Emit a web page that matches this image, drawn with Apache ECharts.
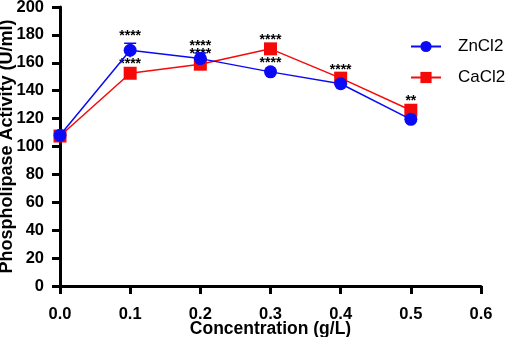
<!DOCTYPE html>
<html>
<head>
<meta charset="utf-8">
<script src="https://cdn.jsdelivr.net/npm/echarts@6/dist/echarts.min.js"></script>
<style>
  html, body { margin: 0; padding: 0; background: #fff; }
  #chart { width: 505px; height: 337px; }
</style>
</head>
<body>
<div id="chart"></div>
<script>
const concentrations = [0.0, 0.1, 0.2, 0.3, 0.4, 0.5];
const znValues = [108, 169, 163, 153.5, 145, 119.5];
const znErrors = [1, 5, 4, 1, 1.5, 1];
const znStars = ["", "****", "****", "****", "", ""];
const caValues = [107.5, 152.5, 159, 170, 149, 126];
const caErrors = [1, 1.5, 2, 1, 1, 1.5];
const caStars = ["", "****", "****", "****", "****", "**"];

const fontFamily = "Liberation Sans, Arial, Helvetica, sans-serif";
const blue = "#0a0af5";
const red = "#f50a0a";

function points(values) {
  return concentrations.map((x, i) => [x, values[i]]);
}

// error bar + significance stars drawn above the bar top
function errorSeries(name, values, errors, stars, color, z) {
  return {
    type: "custom",
    name: name + "-err",
    z: z,
    silent: true,
    data: concentrations.map((x, i) => [x, values[i], errors[i], i]),
    renderItem(params, api) {
      const x = api.value(0);
      const v = api.value(1);
      const e = api.value(2);
      const idx = api.value(3);
      const top = api.coord([x, v + e]);
      const bottom = api.coord([x, v - e]);
      const children = [
        {
          type: "line",
          shape: { x1: top[0], y1: top[1], x2: bottom[0], y2: bottom[1] },
          style: { stroke: color, lineWidth: 1.5 }
        },
        {
          type: "line",
          shape: { x1: top[0] - 6, y1: top[1], x2: top[0] + 6, y2: top[1] },
          style: { stroke: color, lineWidth: 1.5 }
        }
      ];
      if (stars[idx]) {
        children.push({
          type: "text",
          x: top[0],
          y: top[1] - 7,
          style: {
            text: stars[idx],
            align: "center",
            verticalAlign: "middle",
            fill: "#000",
            font: "bold 14px " + fontFamily
          }
        });
      }
      return { type: "group", children: children };
    }
  };
}

const chart = echarts.init(document.getElementById("chart"));
chart.setOption({
  animation: false,
  grid: { left: 60, right: 24, top: 7, bottom: 51, outerBoundsMode: "none" },
  legend: {
    orient: "vertical",
    left: 405,
    top: 33,
    itemWidth: 30,
    itemHeight: 14,
    itemGap: 14,
    data: ["ZnCl2", "CaCl2"],
    textStyle: { fontFamily: fontFamily, fontSize: 17, color: "#000", padding: [0, 0, 0, 12] }
  },
  xAxis: {
    type: "value",
    min: 0,
    max: 0.6,
    interval: 0.1,
    name: "Concentration (g/L)",
    nameLocation: "middle",
    nameMoveOverlap: false,
    nameGap: 34,
    nameTextStyle: { fontFamily: fontFamily, fontSize: 17.5, fontWeight: "bold", color: "#000" },
    axisLine: { onZero: false, lineStyle: { color: "#000", width: 3 } },
    axisTick: { length: 8, lineStyle: { color: "#000", width: 3 } },
    axisLabel: {
      margin: 20,
      fontFamily: fontFamily,
      fontSize: 16.5,
      fontWeight: "bold",
      color: "#000",
      formatter: v => v.toFixed(1)
    },
    splitLine: { show: false }
  },
  yAxis: {
    type: "value",
    min: 0,
    max: 200,
    interval: 20,
    name: "Phospholipase Activity (U/ml)",
    nameLocation: "middle",
    nameMoveOverlap: false,
    nameGap: 44,
    nameTextStyle: { fontFamily: fontFamily, fontSize: 18, fontWeight: "bold", color: "#000" },
    axisLine: { show: true, lineStyle: { color: "#000", width: 3 } },
    axisTick: { show: true, length: 8, lineStyle: { color: "#000", width: 3 } },
    axisLabel: {
      margin: 16,
      fontFamily: fontFamily,
      fontSize: 16.5,
      fontWeight: "bold",
      color: "#000"
    },
    splitLine: { show: false }
  },
  series: [
    {
      name: "ZnCl2",
      type: "line",
      z: 4,
      data: points(znValues),
      symbol: "circle",
      symbolSize: 13,
      lineStyle: { color: blue, width: 1.5 },
      itemStyle: { color: blue }
    },
    {
      name: "CaCl2",
      type: "line",
      z: 3,
      data: points(caValues),
      symbol: "rect",
      symbolSize: 13,
      lineStyle: { color: red, width: 1.5 },
      itemStyle: { color: red }
    },
    errorSeries("CaCl2", caValues, caErrors, caStars, red, 2),
    errorSeries("ZnCl2", znValues, znErrors, znStars, blue, 5)
  ]
});
</script>
</body>
</html>
